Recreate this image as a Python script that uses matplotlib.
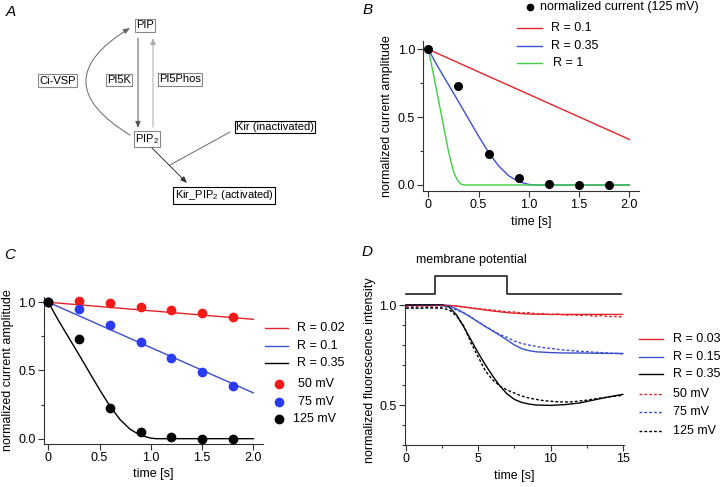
import matplotlib
matplotlib.use("Agg")
import matplotlib.pyplot as plt

plt.rcParams["font.family"] = ["Liberation Sans", "DejaVu Sans"]
plt.rcParams["font.size"] = 9
plt.rcParams["mathtext.fontset"] = "custom"
plt.rcParams["mathtext.rm"] = "Liberation Sans"
plt.rcParams["mathtext.default"] = "regular"

RED = "#e3242b"
BLUE = "#3a4fd0"
GREEN = "#3fcf3f"
RED_PT = "#f51a1a"
BLUE_PT = "#2a3cf2"
AX_COL = "#333333"

# ---- panel A: reaction scheme ----
node_labels = ["PIP", "PIP$_2$", "Ci-VSP", "PI5K", "PI5Phos",
               "Kir (inactivated)", "Kir_PIP$_2$ (activated)"]

# ---- panel B / C: normalized current ----
pulse_t = [0, 0.3, 0.6, 0.9, 1.2, 1.5, 1.8]
cur_50mv = [1.0, 1.01, 0.993, 0.968, 0.941, 0.919, 0.892]
cur_75mv = [1.0, 0.954, 0.831, 0.709, 0.594, 0.487, 0.389]
cur_125mv = [1.0, 0.732, 0.226, 0.048, 0.011, 0.0, -0.002]

lin_t = [0, 2.0]
model_r002 = [1.0, 0.875]
model_r01 = [1.0, 0.336]

r035_t = [0, 0.1, 0.2, 0.3, 0.4, 0.5, 0.6, 0.7, 0.8, 0.9, 1.0, 1.05, 2.0]
model_r035 = [1.0, 0.865, 0.74, 0.615, 0.487, 0.36, 0.24, 0.14, 0.068, 0.024, 0.004, 0.0, 0.0]

r1_t = [0, 0.05, 0.1, 0.15, 0.2, 0.25, 0.28, 0.3, 0.33, 0.36, 2.0]
model_r1 = [1.0, 0.82, 0.63, 0.44, 0.25, 0.1, 0.05, 0.025, 0.005, 0.0, 0.0]

# ---- panel D: fluorescence ----
vm_t = [0, 2, 2, 7, 7, 14.9]
vm_trace = [1.053, 1.053, 1.147, 1.147, 1.053, 1.053]

fit_t = [0, 2.5, 3.0, 3.5, 4.0, 4.5, 5.0, 5.5, 6.0, 6.5, 7.0, 7.5, 8.0, 8.5,
         9.0, 10.0, 11.0, 12.0, 13.0, 14.0, 15.0]
fl_r003 = [1.0, 1.0, 0.998, 0.995, 0.99, 0.985, 0.98, 0.975, 0.97, 0.966, 0.962,
           0.959, 0.957, 0.955, 0.954, 0.953, 0.953, 0.953, 0.953, 0.953, 0.953]
fl_r015 = [1.0, 1.0, 0.995, 0.98, 0.96, 0.938, 0.915, 0.892, 0.87, 0.848, 0.825,
           0.80, 0.782, 0.772, 0.766, 0.762, 0.76, 0.76, 0.759, 0.758, 0.758]
fl_r035 = [1.0, 1.0, 0.99, 0.95, 0.89, 0.825, 0.76, 0.70, 0.645, 0.595, 0.555,
           0.528, 0.513, 0.505, 0.50, 0.498, 0.502, 0.51, 0.525, 0.54, 0.553]

rec_t = [0, 0.5, 1, 1.5, 2, 2.5, 3, 3.5, 4, 4.5, 5, 5.5, 6, 6.5, 7, 7.5, 8, 8.5,
         9, 9.5, 10, 10.5, 11, 11.5, 12, 12.5, 13, 13.5, 14, 14.5, 15]
fl_50mv = [0.993, 0.992, 0.994, 0.993, 0.995, 0.996, 0.997, 0.994, 0.99, 0.986,
           0.982, 0.978, 0.975, 0.97, 0.966, 0.965, 0.96, 0.962, 0.955, 0.957,
           0.952, 0.955, 0.949, 0.951, 0.947, 0.95, 0.944, 0.947, 0.942, 0.943, 0.94]
fl_75mv = [0.985, 0.986, 0.984, 0.987, 0.986, 0.99, 0.99, 0.975, 0.96, 0.94,
           0.915, 0.893, 0.872, 0.852, 0.838, 0.82, 0.808, 0.8, 0.793, 0.787,
           0.783, 0.778, 0.775, 0.772, 0.768, 0.767, 0.764, 0.762, 0.76, 0.758, 0.755]
fl_125mv = [0.983, 0.985, 0.984, 0.986, 0.985, 0.984, 0.975, 0.945, 0.895, 0.81,
            0.74, 0.67, 0.625, 0.595, 0.575, 0.56, 0.545, 0.535, 0.528, 0.522,
            0.519, 0.516, 0.515, 0.516, 0.52, 0.524, 0.53, 0.535, 0.54, 0.545, 0.548]

W, H = 720, 487


def px_axes(left, top, right, bottom):
    # pixel box (top-left origin) -> figure fraction rect
    return [left / W, 1 - bottom / H, (right - left) / W, (bottom - top) / H]


def style_axes(ax):
    for s in ["top", "right"]:
        ax.spines[s].set_visible(False)
    for s in ["left", "bottom"]:
        ax.spines[s].set_linewidth(0.8)
        ax.spines[s].set_color(AX_COL)
    ax.tick_params(which="both", direction="out", width=0.8, color=AX_COL,
                   labelsize=9, pad=2)
    ax.tick_params(which="major", length=4)
    ax.tick_params(which="minor", length=2.5)
    ax.patch.set_alpha(0)


fig = plt.figure(figsize=(7.2, 4.87), dpi=100)

# overlay in pixel coordinates for scheme, panel letters and legends
ov = fig.add_axes([0, 0, 1, 1])
ov.set_xlim(0, W)
ov.set_ylim(H, 0)
ov.axis("off")

# ---- A ----
box_pos = [(145, 25.5), (147, 139), (57.5, 80.5), (119, 80), (180, 79.5),
           (275, 127), (224, 195.5)]
box_edge = ["#888888"] * 5 + ["black", "black"]
for lab, (x, y), ec in zip(node_labels, box_pos, box_edge):
    ov.text(x, y, lab, ha="center", va="center", fontsize=8,
            bbox=dict(boxstyle="square,pad=0.12", fc="white", ec=ec, lw=0.8))

arrow_kw = dict(arrowstyle="-|>,head_length=0.55,head_width=0.22",
                mutation_scale=7, shrinkA=0, shrinkB=0, lw=0.7)
ov.annotate("", xy=(138, 128), xytext=(138, 38),
            arrowprops=dict(color="#555555", **arrow_kw))
ov.annotate("", xy=(153, 38), xytext=(153, 127),
            arrowprops=dict(color="#aaaaaa", **arrow_kw))
ov.annotate("", xy=(130, 28), xytext=(130, 135),
            arrowprops=dict(color="#666666", connectionstyle="arc3,rad=-0.82", **arrow_kw))
ov.annotate("", xy=(187, 183), xytext=(152, 148),
            arrowprops=dict(color="#333333", **arrow_kw))
ov.plot([230, 170], [132, 165], color="#666666", lw=0.7)

for lab, (x, y) in zip("ABCD", [(11, 12), (368, 10), (10, 255), (367, 252)]):
    ov.text(x, y, lab, ha="center", va="center", fontsize=11, style="italic")

# ---- B ----
axb = fig.add_axes(px_axes(423.3, 41.2, 639.4, 191.1))
style_axes(axb)
axb.plot(lin_t, model_r01, color=RED, lw=1)
axb.plot(r035_t, model_r035, color=BLUE, lw=1)
axb.plot(r1_t, model_r1, color=GREEN, lw=1)
axb.plot(pulse_t, cur_125mv, "o", color="black", ms=5.5, clip_on=False, zorder=5)
axb.set_xlim(-0.05, 2.1)
axb.set_ylim(-0.045, 1.06)
axb.set_xticks([0, 0.5, 1.0, 1.5, 2.0], ["0", "0.5", "1.0", "1.5", "2.0"])
axb.set_yticks([0, 0.5, 1.0], ["0.0", "0.5", "1.0"])
axb.set_yticks([0.25, 0.75], minor=True)
axb.set_xlabel("time [s]", labelpad=3)
axb.set_ylabel("normalized current amplitude", labelpad=3)

ov.plot([530], [6.7], "o", color="black", ms=4.5)
ov.text(540, 6.7, "normalized current (125 mV)", va="center", fontsize=9)
for col, lab, y, xt in [(RED, "R = 0.1", 27.7, 551), (BLUE, "R = 0.35", 45.7, 551),
                        (GREEN, "R = 1", 63.3, 553)]:
    ov.plot([517, 541.7], [y, y], color=col, lw=1)
    ov.text(xt, y, lab, va="center", fontsize=9)

# ---- C ----
axc = fig.add_axes(px_axes(44.0, 296.8, 262.9, 444.0))
style_axes(axc)
axc.plot(lin_t, model_r002, color=RED, lw=1)
axc.plot(lin_t, model_r01, color=BLUE, lw=1)
axc.plot(r035_t, model_r035, color="black", lw=1)
axc.plot(pulse_t, cur_50mv, "o", color=RED_PT, ms=6, clip_on=False, zorder=5)
axc.plot(pulse_t, cur_75mv, "o", color=BLUE_PT, ms=6, clip_on=False, zorder=5)
axc.plot(pulse_t, cur_125mv, "o", color="black", ms=6, clip_on=False, zorder=6)
axc.set_xlim(-0.042, 2.094)
axc.set_ylim(-0.039, 1.04)
axc.set_xticks([0, 0.5, 1.0, 1.5, 2.0], ["0", "0.5", "1.0", "1.5", "2.0"])
axc.set_yticks([0, 0.5, 1.0], ["0.0", "0.5", "1.0"])
axc.set_yticks([0.25, 0.75], minor=True)
axc.set_xlabel("time [s]", labelpad=3)
axc.set_ylabel("normalized current amplitude", labelpad=3)

for col, lab, y in [(RED, "R = 0.02", 328), (BLUE, "R = 0.1", 345.7),
                    ("black", "R = 0.35", 362.7)]:
    ov.plot([265, 288], [y, y], color=col, lw=1)
    ov.text(296.7, y, lab, va="center", fontsize=9)
for col, lab, y, xt in [(RED_PT, "50 mV", 384, 297.7), (BLUE_PT, "75 mV", 401.7, 297.7),
                        ("black", "125 mV", 419, 293.3)]:
    ov.plot([279.3], [y], "o", color=col, ms=6)
    ov.text(xt, y, lab, va="center", fontsize=9)

# ---- D ----
axd = fig.add_axes(px_axes(405.0, 255.0, 624.2, 445.0))
style_axes(axd)
axd.plot(vm_t, vm_trace, color="#222222", lw=1.2, clip_on=False)
axd.text(4.55, 1.225, "membrane potential", ha="center", va="center", fontsize=9)
axd.plot(fit_t, fl_r003, color=RED, lw=1)
axd.plot(fit_t, fl_r015, color=BLUE, lw=1)
axd.plot(fit_t, fl_r035, color="black", lw=1)
dot = (0, (2, 1.5))
axd.plot(rec_t, fl_50mv, color=RED, lw=1, ls=dot)
axd.plot(rec_t, fl_75mv, color=BLUE, lw=1, ls=dot)
axd.plot(rec_t, fl_125mv, color="black", lw=1, ls=dot)
axd.set_xlim(-0.07, 15.1)
axd.set_ylim(0.3, 1.25)
axd.spines["left"].set_bounds(0.3, 1.0)
axd.set_xticks([0, 5, 10, 15])
axd.set_xticks([2.5, 7.5, 12.5], minor=True)
axd.set_yticks([0.5, 1.0], ["0.5", "1.0"])
axd.set_yticks([0.3, 0.4, 0.6, 0.7, 0.8, 0.9], minor=True)
axd.set_xlabel("time [s]", labelpad=3)
axd.set_ylabel("normalized fluorescence intensity")
axd.yaxis.set_label_coords(-0.132, 0.395)

for col, lab, y, ls in [(RED, "R = 0.03", 339, "-"), (BLUE, "R = 0.15", 356.7, "-"),
                        ("black", "R = 0.35", 374.3, "-"), (RED, "50 mV", 394, dot),
                        (BLUE, "75 mV", 412.3, dot), ("black", "125 mV", 430.7, dot)]:
    ov.plot([639, 662.7], [y, y], color=col, lw=1, ls=ls)
    ov.text(672.7, y, lab, va="center", fontsize=9)

fig.savefig("out.png", dpi=100, facecolor="white")
